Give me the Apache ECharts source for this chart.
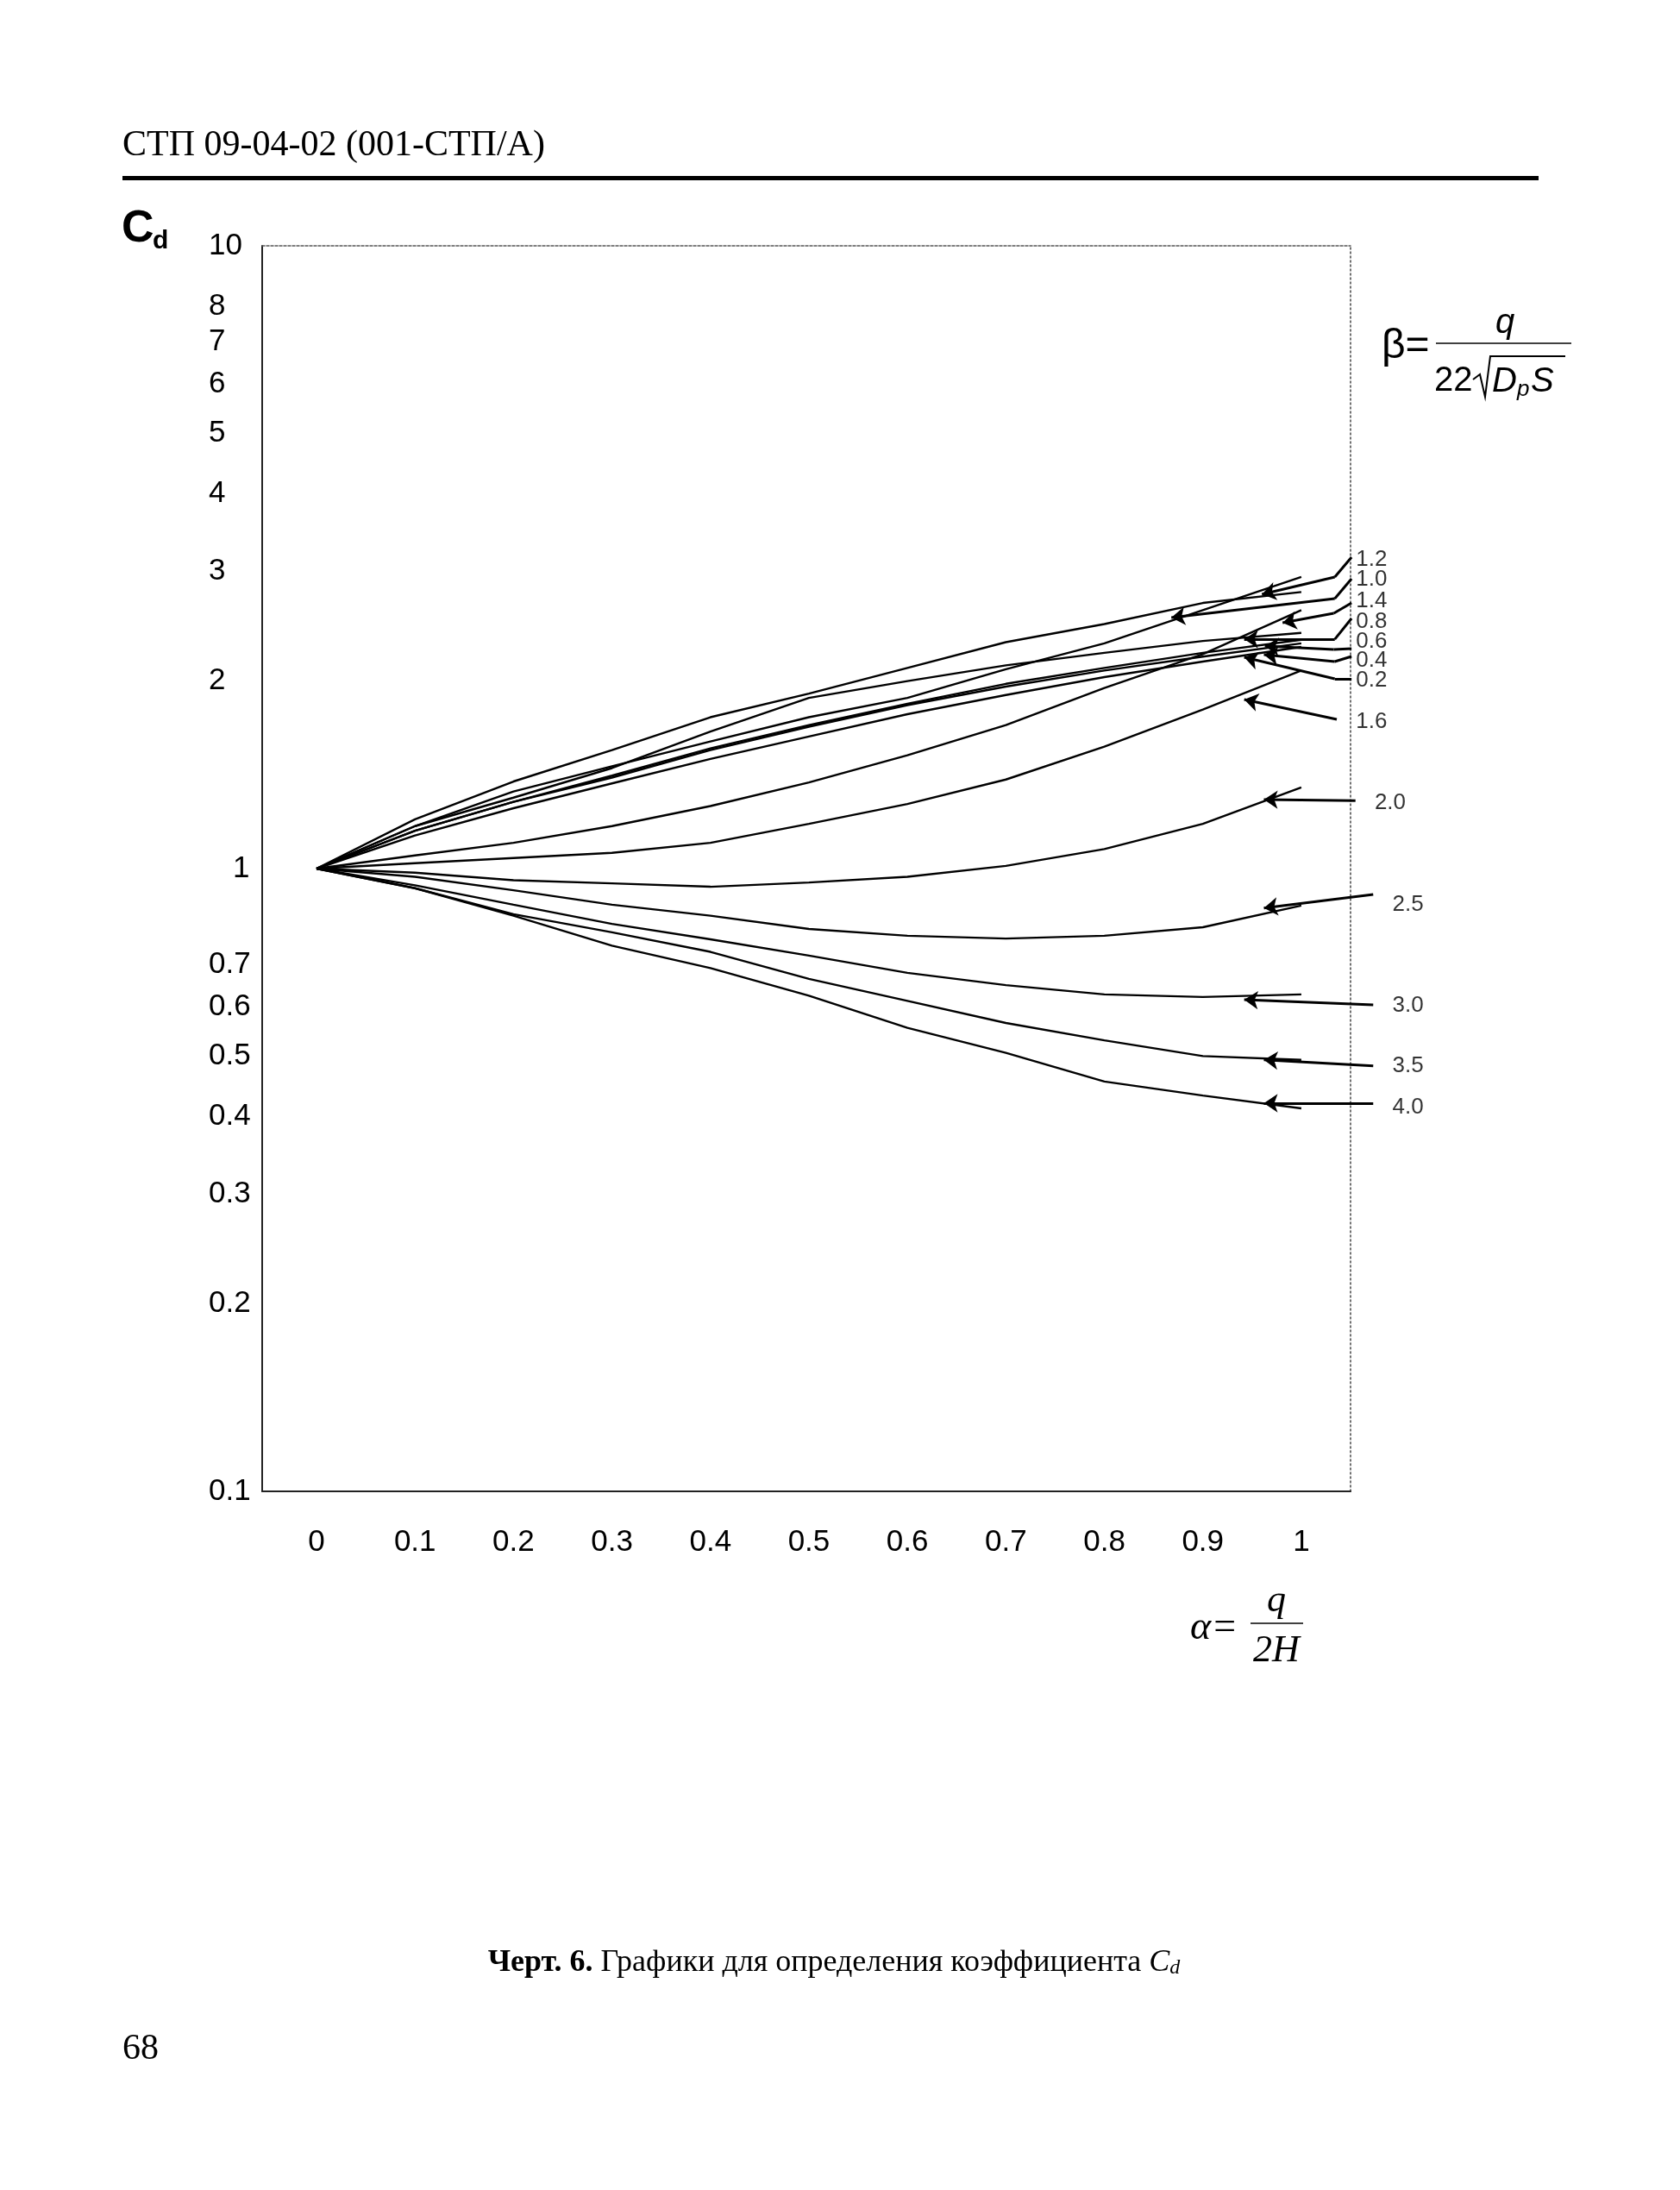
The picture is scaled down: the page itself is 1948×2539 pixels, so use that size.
<!DOCTYPE html>
<html>
<head>
<meta charset="utf-8">
<script src="https://cdn.jsdelivr.net/npm/echarts@6/dist/echarts.min.js"></script>
<style>
  html, body { margin: 0; padding: 0; background: #fff; }
  #chart { width: 1948px; height: 2539px; }
</style>
</head>
<body>
<div id="chart"></div>
<script>
// ---- data ----
const alpha = [0, 0.1, 0.2, 0.3, 0.4, 0.5, 0.6, 0.7, 0.8, 0.9, 1.0];
const betaNames = ['0.2', '0.4', '0.6', '0.8', '1.0', '1.2', '1.4', '1.6', '2.0', '2.5', '3.0', '3.5', '4.0'];
const cd_b02 = [1, 1.13, 1.25, 1.37, 1.50, 1.63, 1.77, 1.90, 2.03, 2.15, 2.27];
const cd_b04 = [1, 1.15, 1.28, 1.40, 1.55, 1.69, 1.83, 1.96, 2.08, 2.19, 2.30];
const cd_b06 = [1, 1.15, 1.28, 1.41, 1.56, 1.70, 1.84, 1.98, 2.10, 2.22, 2.33];
const cd_b08 = [1, 1.17, 1.30, 1.45, 1.66, 1.88, 2.00, 2.12, 2.22, 2.32, 2.39];
const cd_b10 = [1, 1.20, 1.38, 1.55, 1.75, 1.91, 2.10, 2.31, 2.47, 2.67, 2.78];
const cd_b12 = [1, 1.17, 1.33, 1.46, 1.60, 1.75, 1.88, 2.09, 2.30, 2.60, 2.94];
const cd_b14 = [1, 1.05, 1.10, 1.17, 1.26, 1.375, 1.52, 1.70, 1.95, 2.21, 2.60];
const cd_b16 = [1, 1.02, 1.04, 1.06, 1.10, 1.18, 1.27, 1.39, 1.57, 1.80, 2.08];
const cd_b20 = [1, 0.985, 0.958, 0.947, 0.935, 0.95, 0.97, 1.01, 1.075, 1.18, 1.35];
const cd_b25 = [1, 0.97, 0.923, 0.875, 0.84, 0.80, 0.78, 0.772, 0.78, 0.805, 0.872];
const cd_b30 = [1, 0.94, 0.875, 0.815, 0.77, 0.725, 0.68, 0.65, 0.628, 0.622, 0.628];
const cd_b35 = [1, 0.93, 0.845, 0.79, 0.735, 0.665, 0.613, 0.565, 0.53, 0.50, 0.493];
const cd_b40 = [1, 0.93, 0.84, 0.752, 0.692, 0.625, 0.555, 0.506, 0.455, 0.432, 0.412];
const cdSeries = [cd_b02, cd_b04, cd_b06, cd_b08, cd_b10, cd_b12, cd_b14, cd_b16, cd_b20, cd_b25, cd_b30, cd_b35, cd_b40];

const xTickValues = [0, 0.1, 0.2, 0.3, 0.4, 0.5, 0.6, 0.7, 0.8, 0.9, 1];
const xTickLabels = ['0', '0.1', '0.2', '0.3', '0.4', '0.5', '0.6', '0.7', '0.8', '0.9', '1'];
const yTickValues = [0.1, 0.2, 0.3, 0.4, 0.5, 0.6, 0.7, 1, 2, 3, 4, 5, 6, 7, 8, 10];
const yTickLabels = ['0.1', '0.2', '0.3', '0.4', '0.5', '0.6', '0.7', '1', '2', '3', '4', '5', '6', '7', '8', '10'];

// leader annotations (data space: [alpha, Cd]); last point carries the arrow head
const leaderLabels = ['1.2', '1.0', '1.4', '0.8', '0.6', '0.4', '0.2', '1.6', '2.0', '2.5', '3.0', '3.5', '4.0'];
const leaderPaths = [
  [[1.051, 3.162], [1.034, 2.939], [0.960, 2.757]],
  [[1.051, 2.920], [1.034, 2.714], [0.868, 2.529]],
  [[1.051, 2.671], [1.033, 2.570], [0.981, 2.481]],
  [[1.051, 2.521], [1.034, 2.335], [0.942, 2.335]],
  [[1.051, 2.255], [1.033, 2.248], [0.963, 2.277]],
  [[1.051, 2.191], [1.034, 2.150], [0.962, 2.206]],
  [[1.051, 2.017], [1.034, 2.017], [0.942, 2.184]],
  [[1.036, 1.736], [0.942, 1.868]],
  [[1.055, 1.286], [0.962, 1.291]],
  [[1.073, 0.909], [0.962, 0.864]],
  [[1.073, 0.604], [0.942, 0.616]],
  [[1.073, 0.482], [0.962, 0.493]],
  [[1.073, 0.420], [0.962, 0.420]]
];
const labelAnchors = [
  [1.055, 3.131], [1.055, 2.911], [1.055, 2.688], [1.055, 2.489], [1.055, 2.313],
  [1.055, 2.157], [1.055, 2.004], [1.055, 1.720], [1.074, 1.274], [1.092, 0.875],
  [1.092, 0.602], [1.092, 0.482], [1.092, 0.413]
];

// split leader paths into plain segments and final (arrow) segments
const plainSegs = [];
const arrowSegs = [];
leaderPaths.forEach((p, i) => {
  for (let k = 0; k < p.length - 1; k++) {
    const seg = { name: leaderLabels[i], coords: [p[k], p[k + 1]] };
    if (k === p.length - 2) arrowSegs.push(seg); else plainSegs.push(seg);
  }
});

const chart = echarts.init(document.getElementById('chart'), null, { renderer: 'canvas' });

const curveSeries = cdSeries.map((arr, i) => ({
  name: 'β=' + betaNames[i],
  type: 'line',
  xAxisIndex: 0, yAxisIndex: 0,
  data: alpha.map((a, j) => [a, arr[j]]),
  showSymbol: false, symbol: 'none', smooth: false,
  lineStyle: { color: '#000', width: 2.4 },
  z: 3
}));

const SANS = '"Liberation Sans", Arial, Helvetica, sans-serif';
const SERIF = '"Liberation Serif", "Times New Roman", serif';

const option = {
  backgroundColor: '#ffffff',
  animation: false,
  grid: { left: 304, right: 382, top: 285, bottom: 810, containLabel: false },
  xAxis: [
    {
      type: 'value', min: -0.0552, max: 1.050, position: 'bottom',
      axisLine: { show: true, onZero: false, lineStyle: { color: '#222', width: 2 } },
      axisTick: { show: false }, splitLine: { show: false },
      axisLabel: {
        customValues: xTickValues,
        formatter: v => xTickLabels[xTickValues.findIndex(t => Math.abs(t - v) < 1e-9)] ?? '',
        margin: 42, color: '#000',
        fontFamily: '"Liberation Sans Narrow", "Arial Narrow", ' + SANS, fontSize: 35
      }
    },
    {
      type: 'value', min: -0.0552, max: 1.050, position: 'top',
      axisLine: { show: true, onZero: false, lineStyle: { color: '#555', width: 1.5, type: [3, 2] } },
      axisTick: { show: false }, splitLine: { show: false }, axisLabel: { show: false }
    }
  ],
  yAxis: [
    {
      type: 'log', logBase: 10, min: 0.1, max: 10, position: 'left',
      axisLine: { show: true, onZero: false, lineStyle: { color: '#222', width: 2 } },
      axisTick: { show: false }, splitLine: { show: false }, minorTick: { show: false },
      axisLabel: {
        customValues: yTickValues,
        formatter: v => {
          const k = yTickValues.findIndex(t => Math.abs(t - v) / t < 1e-6);
          if (k < 0) return '';
          return yTickLabels[k] === '1' ? '{one|1}' : yTickLabels[k];
        },
        rich: { one: { padding: [0, 0, 0, 28], fontFamily: SANS, fontSize: 35, color: '#000' } },
        align: 'left', margin: 62, color: '#000',
        fontFamily: SANS, fontSize: 35
      }
    },
    {
      type: 'log', logBase: 10, min: 0.1, max: 10, position: 'right',
      axisLine: { show: true, onZero: false, lineStyle: { color: '#444', width: 1.5, type: [2, 3] } },
      axisTick: { show: false }, splitLine: { show: false }, axisLabel: { show: false }
    }
  ],
  series: curveSeries.concat([
    {
      type: 'lines', coordinateSystem: 'cartesian2d', xAxisIndex: 0, yAxisIndex: 0,
      clip: false, silent: true,
      symbol: ['none', 'none'],
      lineStyle: { color: '#000', width: 3, opacity: 1, curveness: 0 },
      data: plainSegs,
      z: 4
    },
    {
      type: 'lines', coordinateSystem: 'cartesian2d', xAxisIndex: 0, yAxisIndex: 0,
      clip: false, silent: true,
      symbol: ['none', 'arrow'], symbolSize: 16,
      lineStyle: { color: '#000', width: 3, opacity: 1, curveness: 0 },
      data: arrowSegs,
      z: 4
    },
    {
      type: 'scatter', xAxisIndex: 0, yAxisIndex: 0, clip: false, silent: true,
      symbol: 'circle', symbolSize: 1,
      itemStyle: { color: 'rgba(0,0,0,0)' },
      label: {
        show: true, position: 'right', distance: 0,
        formatter: p => p.name,
        color: '#000', fontFamily: SANS, fontSize: 26
      },
      data: labelAnchors.map((c, i) => ({ name: leaderLabels[i], value: c })),
      z: 5
    }
  ]),
  graphic: [
    // page header
    { type: 'text', left: 142, top: 148, style: { text: 'СТП 09-04-02 (001-СТП/А)', font: '42px ' + SERIF, fill: '#000' } },
    { type: 'rect', shape: { x: 142, y: 204, width: 1642, height: 5 }, style: { fill: '#000' } },
    // axis title Cd
    { type: 'text', x: 141, y: 292, style: { text: 'C', font: 'bold 52px ' + SANS, fill: '#000', textVerticalAlign: 'bottom' } },
    { type: 'text', x: 177, y: 295, style: { text: 'd', font: 'bold 30px ' + SANS, fill: '#000', textVerticalAlign: 'bottom' } },
    // beta formula
    { type: 'text', x: 1602, y: 402, style: { text: 'β=', font: '48px ' + SANS, fill: '#000', textVerticalAlign: 'middle' } },
    { type: 'line', shape: { x1: 1665, y1: 398, x2: 1822, y2: 398 }, style: { stroke: '#000', lineWidth: 1.5 } },
    { type: 'text', x: 1745, y: 375, style: { text: 'q', font: 'italic 40px ' + SANS, fill: '#000', textAlign: 'center', textVerticalAlign: 'middle' } },
    { type: 'text', x: 1663, y: 442, style: { text: '22', font: '40px ' + SANS, fill: '#000', textVerticalAlign: 'middle' } },
    { type: 'polyline', shape: { points: [[1708, 440], [1716, 434], [1722, 460], [1728, 413], [1815, 413]] }, style: { stroke: '#000', lineWidth: 2, fill: null } },
    { type: 'text', x: 1730, y: 443, style: { text: 'D', font: 'italic 40px ' + SANS, fill: '#000', textVerticalAlign: 'middle' } },
    { type: 'text', x: 1759, y: 452, style: { text: 'p', font: 'italic 26px ' + SANS, fill: '#000', textVerticalAlign: 'middle' } },
    { type: 'text', x: 1775, y: 443, style: { text: 'S', font: 'italic 40px ' + SANS, fill: '#000', textVerticalAlign: 'middle' } },
    // alpha formula
    { type: 'text', x: 1380, y: 1888, style: { text: 'α=', font: 'italic 46px ' + SERIF, fill: '#000', textVerticalAlign: 'middle' } },
    { type: 'line', shape: { x1: 1450, y1: 1882, x2: 1511, y2: 1882 }, style: { stroke: '#000', lineWidth: 1.5 } },
    { type: 'text', x: 1480, y: 1856, style: { text: 'q', font: 'italic 44px ' + SERIF, fill: '#000', textAlign: 'center', textVerticalAlign: 'middle' } },
    { type: 'text', x: 1480, y: 1914, style: { text: '2H', font: 'italic 44px ' + SERIF, fill: '#000', textAlign: 'center', textVerticalAlign: 'middle' } },
    // caption
    { type: 'text', x: 967, y: 2276, style: {
        text: '{b|Черт. 6.}{r| Графики для определения коэффициента }{i|C}{s|d}',
        textAlign: 'center', textVerticalAlign: 'middle',
        rich: {
          b: { font: 'bold 36px ' + SERIF, fill: '#000' },
          r: { font: '36px ' + SERIF, fill: '#000' },
          i: { font: 'italic 36px ' + SERIF, fill: '#000' },
          s: { font: 'italic 24px ' + SERIF, fill: '#000', verticalAlign: 'bottom', padding: [12, 0, 0, 0] }
        }
    } },
    // page number
    { type: 'text', x: 142, y: 2376, style: { text: '68', font: '42px ' + SERIF, fill: '#000', textVerticalAlign: 'middle' } }
  ]
};
chart.setOption(option);
</script>
</body>
</html>
